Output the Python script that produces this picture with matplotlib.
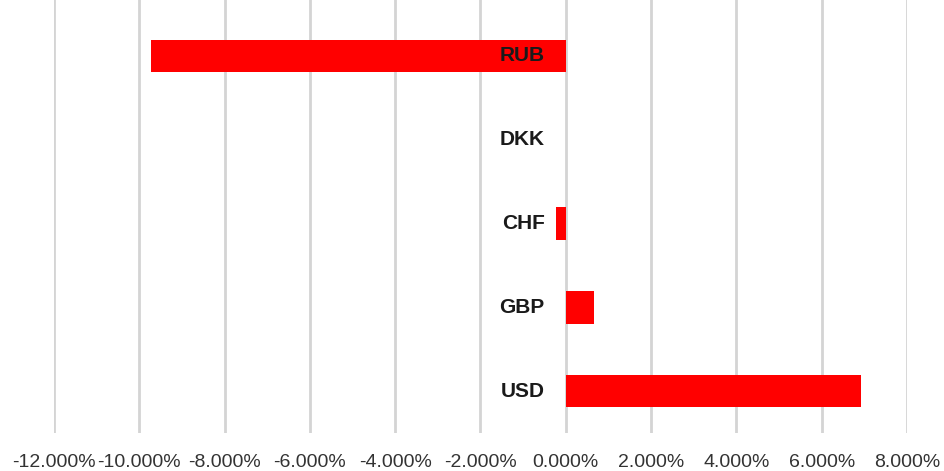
import matplotlib.pyplot as plt
from matplotlib.ticker import FuncFormatter

# currency changes, bottom to top as drawn
currencies = ['USD', 'GBP', 'CHF', 'DKK', 'RUB']
changes = [6.92, 0.67, -0.22, 0.0, -9.73]  # percent
xticks = [-12, -10, -8, -6, -4, -2, 0, 2, 4, 6, 8]

plt.rcParams['font.family'] = ['Liberation Sans', 'DejaVu Sans']

fig = plt.figure(figsize=(9.44, 4.71), dpi=100)
ax = fig.add_axes([54 / 944, 1 - 433 / 471, (907 - 54) / 944, 433 / 471])

pos = list(range(len(currencies)))
ax.barh(pos, changes, height=0.39, color='#ff0000', zorder=2)

ax.set_xlim(-12, 8)
ax.set_ylim(-0.5, 4.667)
ax.set_xticks(xticks)
ax.xaxis.set_major_formatter(FuncFormatter(lambda v, p: f'{v:.3f}%'))
ax.tick_params(axis='x', length=0, pad=15, labelsize=14, labelcolor='#333333')
ax.set_yticks([])
ax.grid(axis='x', color='#d4d4d4', linewidth=2, zorder=0)
for s in ax.spines.values():
    s.set_visible(False)

# category names sit just left of the zero line
for i, name in enumerate(currencies):
    ax.annotate(name, (0, i), xytext=(-21, 0), textcoords='offset pixels',
                ha='right', va='center', fontsize=15, fontweight='bold',
                family=['Liberation Sans Narrow', 'Liberation Sans'],
                color='#1a1a1a', zorder=3)

fig.savefig('out.png', dpi=100)
